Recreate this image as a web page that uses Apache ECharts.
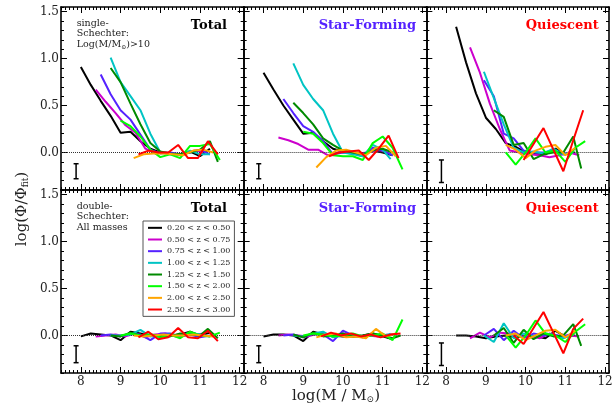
<!DOCTYPE html>
<html><head><meta charset="utf-8">
<script src="https://cdn.jsdelivr.net/npm/echarts@6/dist/echarts.min.js"></script>
<style>html,body{margin:0;padding:0;background:#fff}#c{width:616px;height:408px}</style>
</head><body><div id="c"></div>
<script>
// ---------- labels / ticks ----------
const zLabels = ['0.20 < z < 0.50','0.50 < z < 0.75','0.75 < z < 1.00','1.00 < z < 1.25',
                 '1.25 < z < 1.50','1.50 < z < 2.00','2.00 < z < 2.50','2.50 < z < 3.00'];
const panelTitles = ['Total','Star-Forming','Quiescent'];
const noteLines = [['single-','Schechter:','Log(M/M{s|⊙})>10'],['double-','Schechter:','All masses']];
const massTicks = [8, 9, 10, 11, 12];
const ratioTicks = [0, 0.5, 1.0, 1.5];
const massRange = [7.5, 12.1];
const ratioRange = [-0.4, 1.55];

// ---------- data: [log M, log(Phi/Phi_fit)] per redshift bin ----------
const singleTotal = [
  [[8.0,0.91],[8.25,0.72],[8.5,0.55],[8.75,0.39],[9.0,0.21],[9.25,0.22],[9.5,0.12],[9.75,0.04],[10.0,0.0],[10.25,-0.01],[10.5,-0.02],[10.75,0.01],[11.0,-0.04],[11.25,0.04]],
  [[8.375,0.67],[8.625,0.54],[8.875,0.42],[9.125,0.29],[9.375,0.21],[9.625,0.04],[9.875,-0.01],[10.125,0.0],[10.375,-0.02],[10.625,-0.01],[10.875,0.02],[11.125,0.0]],
  [[8.5,0.83],[8.75,0.62],[9.0,0.45],[9.25,0.35],[9.5,0.19],[9.75,0.03],[10.0,-0.01],[10.25,0.0],[10.5,-0.02],[10.75,0.0],[11.0,0.03],[11.25,-0.02]],
  [[8.75,1.01],[9.0,0.75],[9.25,0.6],[9.5,0.45],[9.75,0.2],[10.0,0.0],[10.25,-0.02],[10.5,-0.03],[10.75,0.02],[11.0,-0.02],[11.25,-0.02]],
  [[8.75,0.9],[9.0,0.75],[9.25,0.52],[9.5,0.3],[9.75,0.1],[10.0,0.01],[10.25,-0.01],[10.5,-0.02],[10.75,0.0],[11.0,0.03],[11.25,0.12],[11.45,-0.1]],
  [[9.0,0.34],[9.25,0.28],[9.5,0.17],[9.75,0.03],[10.0,-0.05],[10.25,-0.02],[10.5,-0.06],[10.75,0.07],[11.0,0.07],[11.25,0.09],[11.5,-0.08]],
  [[9.33,-0.06],[9.58,-0.02],[9.83,-0.01],[10.08,-0.01],[10.33,-0.02],[10.58,-0.03],[10.83,0.02],[11.08,0.03],[11.33,0.0]],
  [[9.45,-0.02],[9.7,0.02],[9.95,0.0],[10.2,0.0],[10.45,0.08],[10.7,-0.06],[10.95,-0.06],[11.2,0.12],[11.45,-0.02]]
];
const singleSF = [
  [[8.0,0.85],[8.25,0.67],[8.5,0.5],[8.75,0.35],[9.0,0.2],[9.25,0.21],[9.5,0.12],[9.75,0.04],[10.0,0.01],[10.25,0.0],[10.5,-0.02],[10.75,0.02],[11.0,0.0],[11.25,-0.03]],
  [[8.375,0.16],[8.625,0.13],[8.875,0.09],[9.125,0.03],[9.375,0.03],[9.625,-0.03],[9.875,0.0],[10.125,0.01],[10.375,-0.01],[10.625,0.0],[10.875,0.02],[11.125,0.02]],
  [[8.5,0.57],[8.75,0.42],[9.0,0.28],[9.25,0.22],[9.5,0.12],[9.75,-0.02],[10.0,0.0],[10.25,-0.01],[10.5,-0.04],[10.75,0.05],[11.0,0.02],[11.25,-0.03]],
  [[8.75,0.95],[9.0,0.72],[9.25,0.57],[9.5,0.45],[9.75,0.2],[10.0,0.0],[10.25,-0.02],[10.5,-0.04],[10.75,0.08],[11.0,0.03],[11.2,-0.07]],
  [[8.75,0.53],[9.0,0.42],[9.25,0.3],[9.5,0.15],[9.75,0.08],[10.0,0.02],[10.25,0.0],[10.5,-0.02],[10.75,0.02],[11.0,0.04],[11.25,0.0]],
  [[9.0,0.22],[9.25,0.2],[9.5,0.1],[9.75,-0.03],[10.0,-0.04],[10.25,-0.04],[10.5,-0.08],[10.75,0.1],[11.0,0.17],[11.25,0.05],[11.5,-0.18]],
  [[9.33,-0.16],[9.58,-0.05],[9.83,0.02],[10.08,0.03],[10.33,0.0],[10.58,-0.03],[10.83,0.05],[11.08,0.07],[11.33,-0.04]],
  [[9.65,-0.04],[9.9,0.0],[10.15,0.01],[10.4,0.02],[10.65,-0.08],[10.9,0.04],[11.15,0.18],[11.4,-0.06]]
];
const singleQ = [
  [[8.25,1.34],[8.5,0.96],[8.75,0.63],[9.0,0.37],[9.25,0.25],[9.5,0.1],[9.75,0.06],[10.0,0.0],[10.25,-0.02],[10.5,-0.02],[10.75,0.04],[11.0,-0.02],[11.25,0.0]],
  [[8.6,1.12],[8.85,0.85],[9.1,0.52],[9.35,0.25],[9.6,0.02],[9.85,0.0],[10.1,-0.02],[10.35,-0.03],[10.6,-0.05],[10.85,-0.03],[11.1,0.0],[11.35,-0.03]],
  [[8.95,0.77],[9.2,0.6],[9.45,0.2],[9.7,0.15],[9.95,0.02],[10.2,0.0],[10.45,0.0],[10.7,0.02],[10.95,-0.02],[11.2,0.01]],
  [[8.95,0.86],[9.2,0.58],[9.45,0.3],[9.7,0.05],[9.95,0.0],[10.2,0.01],[10.45,-0.01],[10.7,0.04],[10.95,-0.02],[11.2,0.0]],
  [[9.2,0.45],[9.45,0.38],[9.7,0.08],[9.95,0.1],[10.2,-0.07],[10.45,-0.02],[10.7,0.0],[10.95,0.0],[11.2,0.17],[11.4,-0.17]],
  [[9.5,0.0],[9.75,-0.13],[10.0,0.0],[10.25,0.15],[10.5,0.0],[10.75,0.02],[11.0,-0.1],[11.25,0.05],[11.5,0.12]],
  [[9.5,0.08],[9.75,0.03],[10.0,-0.06],[10.25,0.02],[10.5,0.06],[10.75,0.08],[11.0,-0.03],[11.25,0.05]],
  [[9.95,-0.08],[10.2,0.09],[10.45,0.26],[10.7,0.03],[10.95,-0.2],[11.2,0.13],[11.45,0.45]]
];
const doubleTotal = [
  [[8.0,-0.01],[8.25,0.02],[8.5,0.01],[8.75,0.0],[9.0,-0.05],[9.25,0.04],[9.5,0.02],[9.75,0.0],[10.0,-0.01],[10.25,0.0],[10.5,0.01],[10.75,0.04],[11.0,0.0],[11.25,0.03]],
  [[8.375,-0.01],[8.625,0.0],[8.875,0.01],[9.125,-0.01],[9.375,0.02],[9.625,-0.02],[9.875,0.01],[10.125,0.02],[10.375,-0.01],[10.625,0.0],[10.875,0.01],[11.125,0.02]],
  [[8.5,0.0],[8.75,0.01],[9.0,-0.01],[9.25,0.02],[9.5,0.01],[9.75,-0.05],[10.0,0.02],[10.25,0.02],[10.5,-0.01],[10.75,0.01],[11.0,-0.02],[11.25,0.0]],
  [[8.75,0.0],[9.0,0.0],[9.25,0.01],[9.5,0.06],[9.75,-0.01],[10.0,0.0],[10.25,0.01],[10.5,0.0],[10.75,0.03],[11.0,0.01],[11.25,-0.01]],
  [[8.75,0.0],[9.0,-0.01],[9.25,0.03],[9.5,0.0],[9.75,0.01],[10.0,0.0],[10.25,-0.01],[10.5,0.02],[10.75,0.01],[11.0,0.0],[11.2,0.07],[11.45,-0.03]],
  [[9.0,0.0],[9.25,0.02],[9.5,0.0],[9.75,0.01],[10.0,-0.02],[10.25,0.01],[10.5,-0.03],[10.75,0.04],[11.0,0.0],[11.25,-0.01],[11.5,0.03]],
  [[9.33,0.0],[9.58,-0.01],[9.83,0.0],[10.08,0.01],[10.33,0.0],[10.58,0.0],[10.83,0.01],[11.08,0.0],[11.33,-0.01]],
  [[9.45,-0.02],[9.7,0.04],[9.95,-0.04],[10.2,-0.02],[10.45,0.08],[10.7,-0.02],[10.95,-0.03],[11.2,0.05],[11.45,-0.06]]
];
const doubleSF = [
  [[8.0,-0.01],[8.25,0.01],[8.5,0.01],[8.75,0.0],[9.0,-0.06],[9.25,0.04],[9.5,0.01],[9.75,0.0],[10.0,-0.01],[10.25,-0.01],[10.5,0.0],[10.75,0.02],[11.0,-0.01],[11.25,-0.04]],
  [[8.375,0.0],[8.625,0.01],[8.875,0.0],[9.125,-0.01],[9.375,0.02],[9.625,0.0],[9.875,0.01],[10.125,0.0],[10.375,-0.01],[10.625,0.0],[10.875,-0.01],[11.125,0.01]],
  [[8.5,0.0],[8.75,0.01],[9.0,-0.02],[9.25,0.02],[9.5,0.01],[9.75,-0.06],[10.0,0.05],[10.25,0.0],[10.5,-0.02],[10.75,0.01],[11.0,0.0],[11.25,0.01]],
  [[8.75,0.0],[9.0,-0.01],[9.25,0.02],[9.5,0.04],[9.75,-0.02],[10.0,0.0],[10.25,0.01],[10.5,-0.02],[10.75,0.02],[11.0,-0.01],[11.2,0.02]],
  [[8.75,0.01],[9.0,-0.02],[9.25,0.03],[9.5,-0.01],[9.75,0.0],[10.0,0.02],[10.25,-0.01],[10.5,0.0],[10.75,0.02],[11.0,0.0],[11.25,-0.03],[11.45,0.0]],
  [[9.0,0.0],[9.25,0.02],[9.5,0.01],[9.75,-0.01],[10.0,0.0],[10.25,0.02],[10.5,-0.01],[10.75,0.0],[11.0,0.02],[11.25,-0.05],[11.5,0.17]],
  [[9.33,-0.02],[9.58,0.01],[9.83,0.02],[10.08,-0.02],[10.33,-0.01],[10.58,-0.03],[10.83,0.07],[11.08,-0.01],[11.33,0.02]],
  [[9.45,-0.01],[9.7,0.03],[9.95,0.0],[10.2,0.02],[10.45,-0.01],[10.7,0.01],[10.95,-0.02],[11.2,0.01],[11.45,0.02]]
];
const doubleQ = [
  [[8.25,0.0],[8.5,0.0],[8.75,-0.01],[9.0,-0.03],[9.25,-0.01],[9.5,0.0],[9.75,-0.02],[10.0,0.0],[10.25,-0.01],[10.5,-0.03],[10.75,0.05],[11.0,-0.01],[11.25,0.0]],
  [[8.6,-0.03],[8.85,0.03],[9.1,-0.02],[9.35,0.03],[9.6,0.02],[9.85,-0.01],[10.1,0.0],[10.35,-0.03],[10.6,0.02],[10.85,-0.01],[11.1,0.0],[11.35,-0.01]],
  [[8.95,0.0],[9.2,0.07],[9.45,-0.05],[9.7,0.05],[9.95,-0.03],[10.2,0.02],[10.45,0.0],[10.7,0.01],[10.95,-0.01],[11.2,0.02]],
  [[8.95,0.0],[9.2,-0.07],[9.45,0.13],[9.7,-0.03],[9.95,0.02],[10.2,-0.01],[10.45,0.03],[10.7,0.0],[10.95,-0.03],[11.2,0.01]],
  [[9.2,0.0],[9.45,0.08],[9.7,-0.08],[9.95,0.06],[10.2,-0.04],[10.45,0.02],[10.7,-0.01],[10.95,0.0],[11.2,0.12],[11.4,-0.11]],
  [[9.5,0.0],[9.75,-0.13],[10.0,0.0],[10.25,0.16],[10.5,0.02],[10.75,0.0],[11.0,-0.07],[11.25,0.04],[11.5,0.12]],
  [[9.5,0.0],[9.75,0.02],[10.0,-0.05],[10.25,0.0],[10.5,0.05],[10.75,0.06],[11.0,-0.02],[11.25,0.05]],
  [[9.7,0.0],[9.95,-0.09],[10.2,0.08],[10.45,0.25],[10.7,0.03],[10.95,-0.19],[11.2,0.07],[11.45,0.18]]
];
// typical error bar per panel: [logM, low, high]
const errorBars = [[7.88,-0.28,-0.12],[7.88,-0.28,-0.12],[7.88,-0.32,-0.08],
                   [7.88,-0.29,-0.11],[7.88,-0.29,-0.11],[7.88,-0.32,-0.08]];

const panelData = [singleTotal, singleSF, singleQ, doubleTotal, doubleSF, doubleQ];

// ---------- styles ----------
const zColors = ['#000000','#cc00cc','#5522ff','#00c4c4','#008a00','#00ff00','#ffa500','#ff0000'];
const titleColors = ['#000000','#5522ff','#ff0000'];
const serif = 'DejaVu Serif';
const colLeft = [61, 243.67, 426.33], panelW = 182.67;
const rowTop = [7, 190], panelH = 183;

const grids = [], xAxes = [], yAxes = [], series = [], graphics = [];
const tickCommon = (len) => ({show:true, inside:true, length:len, lineStyle:{color:'#000', width:1}});
for (let g = 0; g < 6; g++) {
  const r = Math.floor(g / 3), c = g % 3;
  grids.push({left: colLeft[c], top: rowTop[r], width: panelW, height: panelH});
  const showX = r === 1, showY = c === 0;
  ['bottom','top'].forEach((pos) => {
    xAxes.push({type:'value', gridIndex:g, position:pos, min:massRange[0], max:massRange[1],
      axisLine:{show:true, onZero:false, lineStyle:{color:'#000', width:1.6}},
      axisTick:Object.assign(tickCommon(6), {customValues:massTicks}),
      axisLabel:{show: showX && pos === 'bottom', customValues:massTicks, margin:3,
        fontFamily:serif, fontSize:12, color:'#222'},
      splitLine:{show:false}});
    xAxes.push({type:'value', gridIndex:g, position:pos, min:massRange[0], max:massRange[1], interval:0.1,
      axisLine:{show:false, onZero:false}, axisTick:tickCommon(3), axisLabel:{show:false}, splitLine:{show:false}});
  });
  ['left','right'].forEach((pos) => {
    yAxes.push({type:'value', gridIndex:g, position:pos, min:ratioRange[0], max:ratioRange[1],
      axisLine:{show:true, onZero:false, lineStyle:{color:'#000', width:1.6}},
      axisTick:Object.assign(tickCommon(6), {customValues:ratioTicks}),
      axisLabel:{show: showY && pos === 'left', customValues:ratioTicks, margin:2,
        fontFamily:serif, fontSize:12, color:'#222', formatter:(v)=>v.toFixed(1)},
      splitLine:{show:false}});
    yAxes.push({type:'value', gridIndex:g, position:pos, min:ratioRange[0], max:ratioRange[1], interval:0.1,
      axisLine:{show:false, onZero:false}, axisTick:tickCommon(3), axisLabel:{show:false}, splitLine:{show:false}});
  });
  const xi = g * 4, yi = g * 4;
  panelData[g].forEach((d, k) => {
    const s = {type:'line', name:zLabels[k], xAxisIndex:xi, yAxisIndex:yi, data:d,
      symbol:'none', color:zColors[k], lineStyle:{color:zColors[k], width:2}, z:3+k, animation:false};
    if (k === 0) {
      s.markLine = {silent:true, symbol:'none', label:{show:false}, animation:false,
        lineStyle:{color:'#333', type:'dotted', width:1}, data:[{yAxis:0}]};
    }
    series.push(s);
  });
  series.push({type:'custom', xAxisIndex:xi, yAxisIndex:yi, data:[errorBars[g]],
    encode:{x:0, y:[1,2]}, z:2, animation:false, silent:true,
    renderItem:(params, api) => {
      const x = api.value(0), lo = api.value(1), hi = api.value(2);
      const p1 = api.coord([x, hi]), p2 = api.coord([x, lo]);
      const st = {stroke:'#000', lineWidth:1.5};
      return {type:'group', children:[
        {type:'line', shape:{x1:p1[0], y1:p1[1], x2:p2[0], y2:p2[1]}, style:st},
        {type:'line', shape:{x1:p1[0]-2.5, y1:p1[1], x2:p1[0]+2.5, y2:p1[1]}, style:st},
        {type:'line', shape:{x1:p2[0]-2.5, y1:p2[1], x2:p2[0]+2.5, y2:p2[1]}, style:st}
      ]};
    }});
  // panel title
  const titleRight = [227, 416, 598.7];
  graphics.push({type:'text', x:titleRight[c], y:25.7 + r * 183.3, z:10,
    style:{text:panelTitles[c], fill:titleColors[c], fontFamily:serif, fontWeight:'bold', fontSize:13,
      align:'right', verticalAlign:'middle'}});
}
// annotations (one text element per line)
noteLines.forEach((lines, r) => {
  lines.forEach((t, i) => {
    graphics.push({type:'text', x:76.7, y:23.5 + i * 10.3 + r * 183, z:10,
      style:{text:t, fontFamily:serif, fontSize:9.5, fill:'#222', align:'left', verticalAlign:'middle',
        rich:{s:{fontFamily:serif, fontSize:6, fill:'#222', padding:[6,0,0,0]}}}});
  });
});
// axis titles
graphics.push({type:'text', x:336, y:396, z:10,
  style:{text:'log(M / M{s|⊙})', fontFamily:serif, fontSize:15, fill:'#222', align:'center', verticalAlign:'middle',
    rich:{s:{fontFamily:serif, fontSize:9, fill:'#222', padding:[8,0,0,0]}}}});
graphics.push({type:'text', x:22, y:209, rotation:Math.PI/2, z:10,
  style:{text:'log(Φ/Φ{s|fit})', fontFamily:serif, fontSize:15, fill:'#222', align:'center', verticalAlign:'middle',
    rich:{s:{fontFamily:serif, fontSize:9, fill:'#222', padding:[8,0,0,0]}}}});

const chart = echarts.init(document.getElementById('c'), null, {renderer:'canvas'});
chart.setOption({
  backgroundColor:'#fff',
  animation:false,
  grid:grids, xAxis:xAxes, yAxis:yAxes, series:series, graphic:graphics,
  legend:{data:zLabels, orient:'vertical', left:143, top:221, icon:'rect', itemWidth:14, itemHeight:2,
    itemGap:0, itemTextGap:7, padding:[1,4,1,5], borderColor:'#555', borderWidth:1, backgroundColor:'#fff',
    selectedMode:false, z:20,
    textStyle:{fontFamily:serif, fontSize:8, color:'#222', lineHeight:11.67}}
});
</script></body></html>
